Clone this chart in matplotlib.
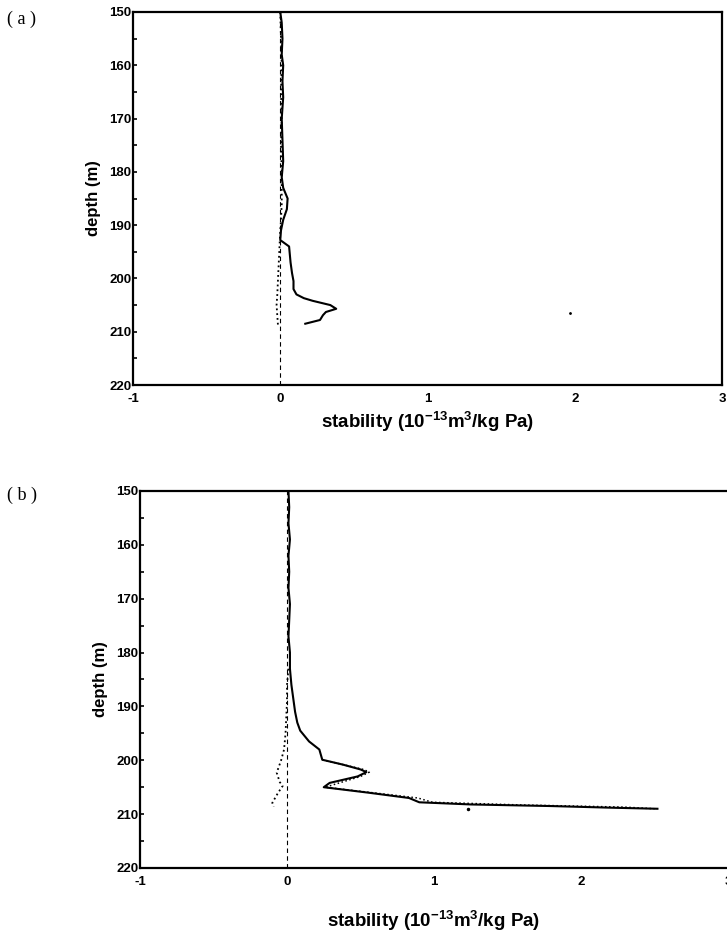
import matplotlib
matplotlib.use("Agg")
import matplotlib.pyplot as plt

plt.rcParams['font.family'] = ['Liberation Sans', 'DejaVu Sans']
plt.rcParams['font.weight'] = 'bold'
plt.rcParams['mathtext.fontset'] = 'custom'
plt.rcParams['mathtext.rm'] = 'Liberation Sans:bold'
plt.rcParams['mathtext.default'] = 'rm'

# ---------------- data: panel (a) ----------------
a_depth_solid = [150, 152, 155, 158, 160, 163, 166, 170, 174, 178, 181, 183, 185, 187,
                 189, 191, 192.8, 194, 195.5, 197, 199, 200.5, 202, 203, 203.7, 204.2,
                 205, 205.7, 206.3, 206.9, 207.8, 208.5]
a_stab_solid = [0.0, 0.01, 0.015, 0.01, 0.02, 0.015, 0.02, 0.01, 0.015, 0.02, 0.01, 0.02,
                0.05, 0.045, 0.02, 0.005, 0.0, 0.06, 0.065, 0.07, 0.08, 0.09, 0.09, 0.11,
                0.16, 0.22, 0.34, 0.38, 0.31, 0.29, 0.27, 0.17]
a_depth_dot = [150, 155, 160, 165, 170, 175, 180, 183, 186, 189, 191, 194, 197, 200,
               203, 205, 207, 209]
a_stab_dot = [0.0, 0.005, 0.01, 0.005, 0.01, 0.005, 0.01, 0.01, 0.01, 0.005, 0.0,
              -0.005, -0.01, -0.015, -0.02, -0.025, -0.02, -0.015]
a_depth_pt = [206.5]
a_stab_pt = [1.97]

# ---------------- data: panel (b) ----------------
b_depth_solid = [150, 153, 156, 159, 162, 165, 168, 171, 174, 177, 180, 183, 186, 189,
                 191, 193, 194.5, 195.5, 196.5, 198, 199.9, 200.8, 201.7, 202.2, 203,
                 204.2, 205, 206, 207, 207.8, 208.2, 208.5, 208.8, 209]
b_stab_solid = [0.01, 0.015, 0.01, 0.02, 0.01, 0.015, 0.01, 0.02, 0.015, 0.01, 0.02,
                0.02, 0.03, 0.045, 0.055, 0.07, 0.09, 0.12, 0.15, 0.22, 0.24, 0.38,
                0.5, 0.54, 0.48, 0.29, 0.25, 0.55, 0.83, 0.9, 1.25, 1.8, 2.2, 2.52]
b_depth_alt = [199.9, 201.7, 202.2, 203, 205, 207, 207.8, 208.3, 208.7, 209]
b_stab_alt = [0.24, 0.52, 0.56, 0.5, 0.26, 0.89, 0.99, 1.6, 2.3, 2.5]
b_depth_neg = [183, 186, 189, 192, 195, 198, 200, 202.3, 204, 204.8, 206, 207.9, 208.6]
b_stab_neg = [0.01, 0.0, 0.0, -0.005, -0.01, -0.02, -0.04, -0.07, -0.05, -0.03, -0.06,
              -0.1, -0.09]
b_depth_pt = [209.1]
b_stab_pt = [1.23]

x_ticks = [-1, 0, 1, 2, 3]
y_ticks = [150, 160, 170, 180, 190, 200, 210, 220]
xlabel = r'stability (10$^{-13}$m$^{3}$/kg Pa)'
ylabel = 'depth (m)'

fig = plt.figure(figsize=(7.27, 9.36), dpi=100)
W, H = 727, 936


def make_ax(left, right, top, bottom):
    return fig.add_axes([left / W, 1 - bottom / H, (right - left) / W, (bottom - top) / H])


def style(ax):
    ax.set_xlim(-1, 3)
    ax.set_ylim(220, 150)
    ax.set_xticks(x_ticks)
    ax.set_xticklabels([str(t) for t in x_ticks])
    ax.set_yticks(y_ticks)
    ax.set_yticks([155, 165, 175, 185, 195, 205, 215], minor=True)
    ax.tick_params(axis='y', which='both', direction='in', length=3, width=1.2,
                   labelsize=9.5, pad=1)
    ax.tick_params(axis='x', which='both', direction='in', length=0,
                   labelsize=9.5, pad=6)
    for lab in ax.get_xticklabels() + ax.get_yticklabels():
        lab.set_fontweight('bold')
    for s in ax.spines.values():
        s.set_linewidth(1.6)
    ax.axvline(0, color='black', ls=(0, (4, 3)), lw=0.8)


# panel (a)
ax1 = make_ax(133, 722, 12, 385)
style(ax1)
ax1.plot(a_stab_dot, a_depth_dot, color='black', ls=':', lw=1.3)
ax1.plot(a_stab_solid, a_depth_solid, color='black', lw=1.5)
ax1.plot(a_stab_pt, a_depth_pt, 'k.', ms=2)
ax1.set_xlabel(xlabel, fontsize=13.5, fontweight='bold', labelpad=3)
ax1.set_ylabel(ylabel, fontsize=12, fontweight='bold', labelpad=6)

# panel (b)
ax2 = make_ax(140, 728, 491, 868)
style(ax2)
ax2.spines['right'].set_visible(False)
ax2.plot(b_stab_neg, b_depth_neg, color='black', ls=':', lw=1.3)
ax2.plot(b_stab_alt, b_depth_alt, color='black', ls=':', lw=1.1)
ax2.plot(b_stab_solid, b_depth_solid, color='black', lw=1.5)
ax2.plot(b_stab_pt, b_depth_pt, 'k.', ms=3)
ax2.set_xlabel(xlabel, fontsize=13.5, fontweight='bold', labelpad=15)
ax2.set_ylabel(ylabel, fontsize=12, fontweight='bold', labelpad=6)

fig.text(7 / W, 1 - 19 / H, '( a )', family=['Liberation Serif', 'DejaVu Serif'],
         fontsize=13, fontweight='normal', va='center', ha='left')
fig.text(7 / W, 1 - 495 / H, '( b )', family=['Liberation Serif', 'DejaVu Serif'],
         fontsize=13, fontweight='normal', va='center', ha='left')

fig.savefig('out.png', dpi=100)
